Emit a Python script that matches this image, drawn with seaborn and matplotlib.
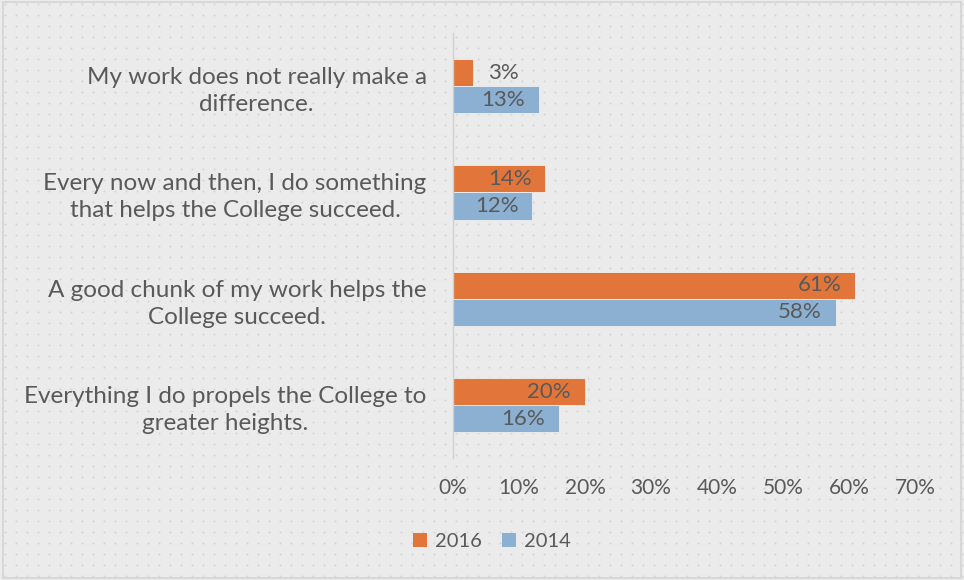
import matplotlib
matplotlib.use("Agg")
import matplotlib.pyplot as plt
import seaborn as sns
import pandas as pd
import numpy as np
from matplotlib.patches import Rectangle, Patch

categories = [
    "My work does not really make a\ndifference.",
    "Every now and then, I do something\nthat helps the College succeed.",
    "A good chunk of my work helps the\nCollege succeed.",
    "Everything I do propels the College to\ngreater heights.",
]
values_2016 = [3, 14, 61, 20]
values_2014 = [13, 12, 58, 16]
years = ["2016", "2014"]
x_ticks = [0, 10, 20, 30, 40, 50, 60, 70]

df = pd.DataFrame({
    "category": categories * 2,
    "value": values_2016 + values_2014,
    "year": [years[0]] * 4 + [years[1]] * 4,
})

sns.set_theme(style="white")
plt.rcParams["font.family"] = ["Lato", "DejaVu Sans"]

text_color = "#595959"
bg = "#ebebeb"
c2016 = "#E2763A"
c2014 = "#8BB0D2"

fig = plt.figure(figsize=(9.64, 5.8), dpi=100)
fig.patch.set_facecolor(bg)

# dotted background texture
bgax = fig.add_axes([0, 0, 1, 1], zorder=-5)
bgax.set_xlim(0, 964)
bgax.set_ylim(0, 580)
bgax.axis("off")
gx, gy = np.meshgrid(np.arange(5, 964, 11), np.arange(4, 580, 11))
bgax.scatter(gx.ravel(), gy.ravel(), s=2.2, color="#d5d5d5", linewidths=0)
fig.patches.append(Rectangle((0.003, 0.003), 0.994, 0.994, transform=fig.transFigure,
                             facecolor="none", edgecolor="#d4d4d4", linewidth=1.2))

ax = fig.add_axes([0.47, 0.21, 0.479, 0.733])
ax.set_facecolor("none")
sns.barplot(data=df, y="category", x="value", hue="year", hue_order=years,
            palette=[c2016, c2014], orient="h", width=0.51, ax=ax,
            edgecolor="#f0f0f0", linewidth=0.6, saturation=1, legend=False)

ax.set_xlim(0, 70)
ax.set_xticks(x_ticks)
ax.set_xticklabels([f"{t}%" for t in x_ticks])
ax.set_xlabel("")
ax.set_ylabel("")
ax.tick_params(axis="x", colors=text_color, labelsize=15, length=0, pad=14)
ax.tick_params(axis="y", colors=text_color, labelsize=17.5, length=0, pad=19)
for lab in ax.get_yticklabels():
    lab.set_multialignment("center")
    lab.set_linespacing(1.35)
for s in ["top", "right", "bottom"]:
    ax.spines[s].set_visible(False)
ax.spines["left"].set_color("#d0d0d0")
ax.spines["left"].set_linewidth(1)

for container in ax.containers:
    for patch in container:
        w = patch.get_width()
        yc = patch.get_y() + patch.get_height() / 2
        if w < 8:
            ax.annotate(f"{w:.0f}%", (w, yc), xytext=(11, 0), textcoords="offset points",
                        ha="left", va="center", color=text_color, fontsize=16)
        else:
            ax.annotate(f"{w:.0f}%", (w, yc), xytext=(-10, 0), textcoords="offset points",
                        ha="right", va="center", color=text_color, fontsize=16)

handles = [Patch(facecolor=c2016, edgecolor="none"), Patch(facecolor=c2014, edgecolor="none")]
fig.legend(handles, years, loc="center", bbox_to_anchor=(0.51, 0.066), ncol=2,
           frameon=False, handlelength=0.7, handleheight=0.7, handletextpad=0.4,
           columnspacing=1.0, labelcolor=text_color, fontsize=14.5)

fig.savefig("out.png", dpi=100, facecolor=fig.get_facecolor())
